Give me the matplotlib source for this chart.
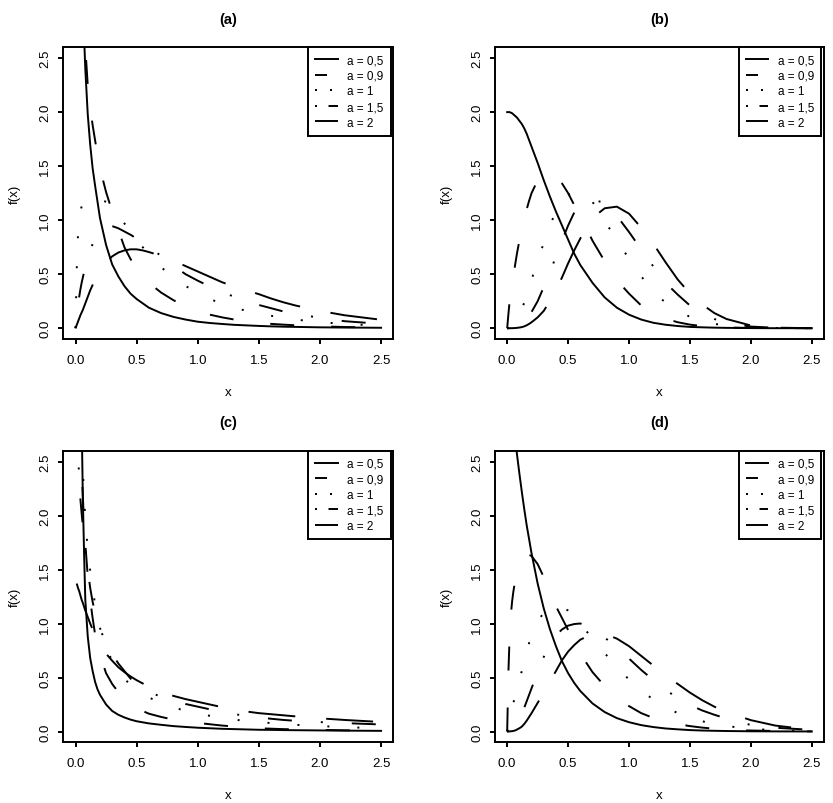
import numpy as np
import matplotlib.pyplot as plt
from matplotlib.lines import Line2D

plt.rcParams['font.family'] = ['Liberation Sans', 'DejaVu Sans']
plt.rcParams['lines.scale_dashes'] = False

nan = np.nan

# common x grid (values at these x)
x = [0, 0.01, 0.02, 0.03, 0.04, 0.05, 0.06, 0.07, 0.08,
     0.1, 0.12, 0.14, 0.16, 0.18, 0.2,
     0.25, 0.3, 0.35, 0.4, 0.45, 0.5, 0.55, 0.6,
     0.7, 0.8, 0.9, 1.0,
     1.1, 1.2, 1.3, 1.4, 1.5, 1.6, 1.7, 1.8,
     2.0, 2.2, 2.5]

labels = ['a = 0,5', 'a = 0,9', 'a = 1', 'a = 1,5', 'a = 2']
titles = ['(a)', '(b)', '(c)', '(d)']

# panel (a)
a_05 = [nan, 12.0, 7.5, 5.6, 4.5, 3.7, 3.1, 2.7, 2.4,
        1.98, 1.7, 1.48, 1.32, 1.17, 1.02,
        0.77, 0.59, 0.48, 0.39, 0.32, 0.27, 0.23, 0.19,
        0.14, 0.105, 0.08, 0.06,
        0.048, 0.039, 0.031, 0.026, 0.021, 0.017, 0.014, 0.012,
        0.008, 0.006, 0.004]
a_09 = [nan, 9.0, 6.5, 5.2, 4.3, 3.7, 3.2, 2.85, 2.6,
        2.25, 2.04, 1.88, 1.74, 1.6, 1.48,
        1.26, 1.08, 0.91, 0.75, 0.64, 0.56, 0.48, 0.42,
        0.33, 0.26, 0.2, 0.158,
        0.125, 0.1, 0.08, 0.063, 0.05, 0.04, 0.033, 0.027,
        0.017, 0.011, 0.006]
a_1 = [0, 0.55, 0.86, 0.98, 1.07, 1.13, 1.16, 1.18, 1.19,
       1.2, 1.21, 1.21, 1.21, 1.2, 1.19,
       1.17, 1.13, 1.05, 0.97, 0.89, 0.82, 0.75, 0.68,
       0.565, 0.47, 0.39, 0.33,
       0.27, 0.225, 0.19, 0.16, 0.135, 0.115, 0.095, 0.08,
       0.055, 0.04, 0.022]
a_15 = [0, 0.11, 0.21, 0.29, 0.36, 0.42, 0.47, 0.52, 0.56,
        0.64, 0.72, 0.78, 0.83, 0.87, 0.9,
        0.94, 0.945, 0.925, 0.895, 0.865, 0.83, 0.79, 0.75,
        0.67, 0.58, 0.5, 0.44,
        0.385, 0.335, 0.29, 0.25, 0.215, 0.185, 0.155, 0.135,
        0.095, 0.065, 0.04]
a_2 = [0, 0.03, 0.06, 0.09, 0.12, 0.145, 0.17, 0.2, 0.23,
       0.29, 0.35, 0.4, 0.45, 0.49, 0.53,
       0.61, 0.665, 0.7, 0.72, 0.73, 0.73, 0.72, 0.705,
       0.67, 0.625, 0.575, 0.525,
       0.475, 0.425, 0.385, 0.35, 0.315, 0.275, 0.24, 0.21,
       0.16, 0.12, 0.078]

# panel (b)
b_05 = [2.0, 2.0, 2.0, 1.995, 1.99, 1.98, 1.97, 1.96, 1.95,
        1.92, 1.89, 1.85, 1.8, 1.74, 1.68,
        1.53, 1.37, 1.22, 1.08, 0.95, 0.82, 0.69, 0.585,
        0.42, 0.285, 0.19, 0.125,
        0.08, 0.05, 0.032, 0.02, 0.012, 0.008, 0.005, 0.003,
        0.001, 0.0, 0.0]
b_09 = [0, 0.13, 0.25, 0.34, 0.42, 0.48, 0.55, 0.62, 0.69,
        0.81, 0.93, 1.02, 1.1, 1.18, 1.25,
        1.37, 1.43, 1.44, 1.41, 1.34, 1.25, 1.14, 1.04,
        0.81, 0.62, 0.445, 0.32,
        0.21, 0.14, 0.088, 0.055, 0.033, 0.02, 0.012, 0.007,
        0.002, 0.001, 0.0]
b_1 = [0, 0.0, 0.002, 0.005, 0.01, 0.02, 0.035, 0.05, 0.07,
       0.11, 0.17, 0.24, 0.31, 0.38, 0.45,
       0.62, 0.79, 0.95, 1.08, 1.17, 1.235, 1.27, 1.27,
       1.17, 0.99, 0.82, 0.64,
       0.48, 0.34, 0.235, 0.16, 0.105, 0.065, 0.04, 0.025,
       0.008, 0.002, 0.0]
b_15 = [0, 0, 0, 0.001, 0.002, 0.004, 0.007, 0.01, 0.015,
        0.03, 0.05, 0.07, 0.095, 0.12, 0.15,
        0.25, 0.38, 0.52, 0.66, 0.81, 0.95, 1.07, 1.13,
        1.19, 1.16, 1.04, 0.89,
        0.73, 0.57, 0.42, 0.31, 0.21, 0.14, 0.085, 0.05,
        0.015, 0.004, 0.0]
b_2 = [0, 0, 0, 0, 0, 0.001, 0.001, 0.002, 0.003,
       0.006, 0.01, 0.017, 0.027, 0.04, 0.055,
       0.1, 0.16, 0.25, 0.35, 0.47, 0.6, 0.72, 0.83,
       1.02, 1.11, 1.125, 1.06,
       0.93, 0.78, 0.61, 0.45, 0.32, 0.22, 0.14, 0.085,
       0.025, 0.005, 0.0]

# panel (c)
c_05 = [nan, 30.0, 11.0, 6.0, 3.9, 2.9, 2.15, 1.65, 1.22,
        0.88, 0.68, 0.56, 0.46, 0.39, 0.34,
        0.25, 0.19, 0.155, 0.13, 0.11, 0.095, 0.085, 0.075,
        0.062, 0.05, 0.042, 0.035,
        0.03, 0.025, 0.022, 0.019, 0.016, 0.015, 0.013, 0.012,
        0.01, 0.008, 0.006]
c_09 = [nan, 12.0, 5.5, 3.6, 2.8, 2.45, 2.17, 1.93, 1.74,
        1.44, 1.22, 1.05, 0.9, 0.8, 0.71,
        0.54, 0.44, 0.365, 0.31, 0.255, 0.22, 0.19, 0.165,
        0.135, 0.11, 0.093, 0.08,
        0.067, 0.055, 0.046, 0.038, 0.03, 0.026, 0.022, 0.02,
        0.015, 0.011, 0.008]
c_1 = [nan, 15.0, 6.5, 4.3, 3.2, 2.7, 2.42, 2.18, 1.97,
       1.68, 1.49, 1.32, 1.18, 1.06, 0.96,
       0.78, 0.65, 0.56, 0.49, 0.43, 0.39, 0.35, 0.315,
       0.265, 0.225, 0.19, 0.165,
       0.145, 0.125, 0.11, 0.097, 0.087, 0.078, 0.07, 0.062,
       0.05, 0.04, 0.03]
c_15 = [nan, 4.0, 2.7, 2.3, 2.15, 2.02, 1.9, 1.78, 1.68,
        1.5, 1.33, 1.2, 1.1, 1.02, 0.95,
        0.82, 0.72, 0.63, 0.56, 0.49, 0.44, 0.4, 0.37,
        0.32, 0.29, 0.255, 0.23,
        0.205, 0.18, 0.16, 0.145, 0.13, 0.118, 0.107, 0.099,
        0.087, 0.078, 0.065]
c_2 = [nan, 1.37, 1.33, 1.3, 1.26, 1.22, 1.19, 1.155, 1.12,
       1.06, 1.0, 0.945, 0.895, 0.85, 0.805,
       0.72, 0.655, 0.595, 0.55, 0.51, 0.475, 0.445, 0.415,
       0.37, 0.33, 0.3, 0.275,
       0.25, 0.225, 0.205, 0.185, 0.17, 0.16, 0.15, 0.14,
       0.122, 0.107, 0.088]

# panel (d)
d_05 = [3.46, 3.33, 3.21, 3.09, 2.98, 2.87, 2.77, 2.67, 2.57,
        2.39, 2.22, 2.06, 1.91, 1.78, 1.65,
        1.37, 1.14, 0.95, 0.79, 0.65, 0.54, 0.45, 0.375,
        0.26, 0.18, 0.124, 0.086,
        0.059, 0.041, 0.028, 0.02, 0.013, 0.009, 0.0065, 0.0045,
        0.002, 0.001, 0.0003]
d_09 = [0, 0.55, 0.88, 1.08, 1.2, 1.29, 1.36, 1.42, 1.47,
        1.54, 1.59, 1.62, 1.635, 1.635, 1.625,
        1.55, 1.43, 1.29, 1.16, 1.05, 0.94, 0.83, 0.72,
        0.55, 0.42, 0.315, 0.235,
        0.17, 0.125, 0.092, 0.068, 0.05, 0.036, 0.026, 0.018,
        0.009, 0.005, 0.001]
d_1 = [0, 0.06, 0.11, 0.16, 0.21, 0.26, 0.305, 0.35, 0.39,
       0.48, 0.56, 0.65, 0.74, 0.82, 0.88,
       1.02, 1.1, 1.14, 1.155, 1.15, 1.12, 1.07, 1.0,
       0.86, 0.725, 0.6, 0.48,
       0.38, 0.295, 0.225, 0.17, 0.125, 0.095, 0.07, 0.05,
       0.025, 0.012, 0.003]
d_15 = [0, 0.002, 0.006, 0.012, 0.02, 0.03, 0.045, 0.06, 0.08,
        0.12, 0.17, 0.22, 0.28, 0.34, 0.4,
        0.55, 0.69, 0.8, 0.89, 0.945, 0.98, 0.995, 1.0,
        0.955, 0.87, 0.78, 0.675,
        0.57, 0.475, 0.385, 0.31, 0.245, 0.195, 0.155, 0.12,
        0.06, 0.035, 0.015]
d_2 = [0, 0, 0.001, 0.002, 0.003, 0.005, 0.008, 0.012, 0.018,
       0.03, 0.045, 0.07, 0.1, 0.135, 0.17,
       0.265, 0.36, 0.46, 0.56, 0.66, 0.74, 0.8, 0.85,
       0.905, 0.905, 0.86, 0.79,
       0.7, 0.61, 0.52, 0.44, 0.36, 0.29, 0.23, 0.18,
       0.105, 0.055, 0.015]

panels = [[a_05, a_09, a_1, a_15, a_2],
          [b_05, b_09, b_1, b_15, b_2],
          [c_05, c_09, c_1, c_15, c_2],
          [d_05, d_09, d_1, d_15, d_2]]


def px(*v):
    # pixel lengths -> points (dpi 100)
    return [p * 0.72 for p in v]


# R line types 1..5, dash lengths measured in pixels
curve_styles = [dict(linestyle='-'),
                dict(dashes=px(24, 37)),
                dict(dashes=px(2, 28)),
                dict(dashes=px(2, 29, 24, 29)),
                dict(dashes=px(47, 31))]
legend_styles = [dict(linestyle='-'),
                 dict(dashes=px(12, 19)),
                 dict(dashes=px(2, 13)),
                 dict(dashes=px(2, 11.5, 12, 16.5)),
                 dict(dashes=px(24, 16))]

W, H = 833, 804
LW = 1.4
boxes = [(63.3, 48.3, 393.3, 340.0), (495.0, 48.3, 824.0, 340.0),
         (63.3, 451.7, 393.3, 743.3), (495.0, 451.7, 824.0, 743.3)]
ticks = [0, 0.5, 1.0, 1.5, 2.0, 2.5]
ticklabels = ['0.0', '0.5', '1.0', '1.5', '2.0', '2.5']

fig = plt.figure(figsize=(W / 100, H / 100), dpi=100)

for (l, t, r, b), title, curves in zip(boxes, titles, panels):
    ax = fig.add_axes([l / W, 1 - b / H, (r - l) / W, (b - t) / H])
    for y, st in zip(curves, curve_styles):
        ax.plot(x, y, color='black', lw=LW, **st)
    ax.set_xlim(-0.1, 2.6)
    ax.set_ylim(-0.1, 2.6)
    ax.set_xticks(ticks)
    ax.set_xticklabels(ticklabels)
    ax.set_yticks(ticks)
    ax.set_yticklabels(ticklabels, rotation=90, va='center')
    ax.tick_params(direction='out', length=3.6, width=LW, labelsize=9.5)
    ax.tick_params(axis='x', pad=7)
    ax.tick_params(axis='y', pad=5)
    for s in ax.spines.values():
        s.set_linewidth(LW)

    ax.text(0.5, 1 + 28.3 / (b - t), title, transform=ax.transAxes,
            ha='center', va='center', fontsize=10.5, fontweight='bold')
    ax.set_xlabel('x', fontsize=9.5, va='center')
    ax.xaxis.set_label_coords(0.5, -53 / (b - t))
    ax.set_ylabel('f(x)', fontsize=9.5, va='center')
    ax.yaxis.set_label_coords(-48.3 / (r - l), 0.5)

    handles = [Line2D([], [], color='black', lw=LW, **st) for st in legend_styles]
    leg = ax.legend(handles, labels, loc='upper right',
                    bbox_to_anchor=(1 - 2.6 / (r - l), 1.0),
                    fontsize=8.5, frameon=True, fancybox=False,
                    edgecolor='black', framealpha=1, borderaxespad=0,
                    borderpad=0.6, handlelength=1.9, handletextpad=0.8,
                    labelspacing=0.3)
    leg.get_frame().set_linewidth(LW)

fig.savefig('out.png', dpi=100)
